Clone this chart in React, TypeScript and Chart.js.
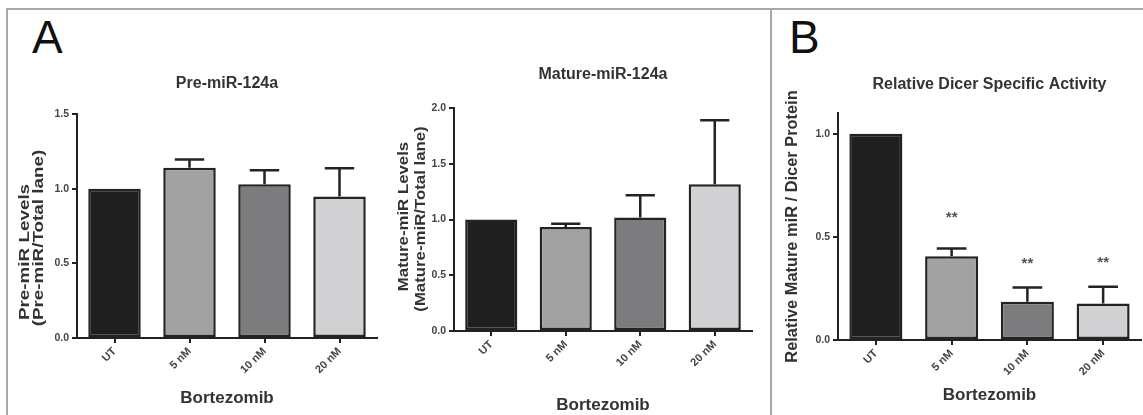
import React, { useEffect, useRef } from "react";
import { Chart, registerables } from "chart.js";

Chart.register(...registerables);

// ---------- data ----------
const categories = ["UT", "5 nM", "10 nM", "20 nM"];

const preMirValues = [1.0, 1.14, 1.03, 0.947];
const preMirErrors = [0, 0.055, 0.093, 0.19];
const preMirTicks = [0, 0.5, 1.0, 1.5];

const matureMirValues = [1.0, 0.933, 1.017, 1.316];
const matureMirErrors = [0, 0.03, 0.2, 0.574];
const matureMirTicks = [0, 0.5, 1.0, 1.5, 2.0];

const dicerValues = [1.0, 0.406, 0.185, 0.177];
const dicerErrors = [0, 0.037, 0.07, 0.081];
const dicerTicks = [0, 0.5, 1.0];
const dicerSignificance = ["", "**", "**", "**"];
const dicerSignificanceY = [0, 0.614, 0.39, 0.397];

const barColors = ["#1f1f1f", "#a2a2a2", "#7c7c7e", "#d1d1d3"];

const xAxisTitle = "Bortezomib";
const preMirTitle = "Pre-miR-124a";
const matureMirTitle = "Mature-miR-124a";
const dicerTitle = "Relative Dicer Specific Activity";
const preMirYTitle = ["Pre-miR Levels", "(Pre-miR/Total lane)"];
const matureMirYTitle = ["Mature-miR Levels", "(Mature-miR/Total lane)"];
const dicerYTitle = ["Relative Mature miR / Dicer Protein"];

const FONT = '"Liberation Sans", Arial, Helvetica, sans-serif';

// ---------- plugins ----------
const errorBarPlugin = {
  id: "errorBars",
  afterDatasetsDraw(chart: any, _args: any, opts: any) {
    const errors = opts && opts.errors;
    if (!errors) return;
    const meta = chart.getDatasetMeta(0);
    const yScale = chart.scales.y;
    const values = chart.data.datasets[0].data;
    const ctx = chart.ctx;
    ctx.save();
    ctx.strokeStyle = "#232323";
    ctx.lineWidth = 2.5;
    ctx.lineCap = "butt";
    meta.data.forEach((bar: any, i: number) => {
      const e = errors[i];
      if (!e) return;
      const v = values[i];
      const base = yScale.getPixelForValue(v);
      const top = yScale.getPixelForValue(v + e);
      const half = bar.width * 0.28;
      ctx.beginPath();
      ctx.moveTo(bar.x, base);
      ctx.lineTo(bar.x, top);
      ctx.moveTo(bar.x - half, top);
      ctx.lineTo(bar.x + half, top);
      ctx.stroke();
    });
    const sig = opts.sig;
    const sigY = opts.sigY;
    if (sig && sigY) {
      ctx.fillStyle = "#555";
      ctx.font = `bold 15px ${FONT}`;
      ctx.textAlign = "center";
      ctx.textBaseline = "alphabetic";
      meta.data.forEach((bar: any, i: number) => {
        if (!sig[i]) return;
        const y = yScale.getPixelForValue(sigY[i]) + 15 * 0.57;
        ctx.fillText(sig[i], bar.x, y);
      });
    }
    ctx.restore();
  },
};

const yTitlePlugin = {
  id: "yTitle",
  afterDraw(chart: any, _args: any, opts: any) {
    if (!opts || !opts.lines) return;
    const ctx = chart.ctx;
    ctx.save();
    ctx.fillStyle = "#333";
    ctx.font = `bold ${opts.size}px ${FONT}`;
    ctx.textAlign = "center";
    ctx.textBaseline = "middle";
    const texts = opts.texts;
    opts.lines.forEach((l: any, i: number) => {
      ctx.save();
      ctx.translate(l.x, l.y);
      ctx.rotate(-Math.PI / 2);
      ctx.scale(opts.stretch, 1);
      ctx.fillText(texts[i], 0, 0);
      ctx.restore();
    });
    ctx.restore();
  },
};

function buildConfig(o: any) {
  return {
    type: "bar",
    data: {
      labels: categories,
      datasets: [
        {
          data: o.values,
          backgroundColor: barColors,
          borderColor: "#232323",
          borderWidth: 2.5,
          borderSkipped: false,
          barPercentage: 0.7,
          categoryPercentage: 1,
        },
      ],
    },
    plugins: [errorBarPlugin, yTitlePlugin],
    options: {
      animation: false,
      responsive: false,
      devicePixelRatio: 1,
      events: [],
      layout: { padding: { left: 0, right: o.padRight, top: 0, bottom: 0 } },
      plugins: {
        legend: { display: false },
        tooltip: { enabled: false },
        title: {
          display: true,
          text: o.title,
          fullSize: false,
          color: "#333",
          font: { family: FONT, size: 16, weight: "bold", lineHeight: 1.2 },
          padding: { top: o.titlePadTop, bottom: o.titlePadBottom },
        },
        errorBars: { errors: o.errors, sig: o.sig, sigY: o.sigY },
        yTitle: o.yTitle,
      },
      scales: {
        x: {
          type: "category",
          offset: true,
          afterFit: (s: any) => {
            s.height = o.xAxisHeight;
          },
          grid: {
            offset: false,
            drawOnChartArea: false,
            drawTicks: true,
            tickLength: 5,
            color: "#222",
            lineWidth: 2,
          },
          border: { display: true, color: "#222", width: 2 },
          ticks: {
            color: "#444",
            font: { family: FONT, size: 11, weight: "bold" },
            minRotation: 45,
            maxRotation: 45,
            autoSkip: false,
            padding: 2,
          },
          title: {
            display: true,
            text: xAxisTitle,
            color: "#333",
            font: { family: FONT, size: 17, weight: "bold", lineHeight: 1 },
            padding: { top: 0, bottom: o.xTitlePadBottom },
          },
        },
        y: {
          min: 0,
          max: o.max,
          afterFit: (s: any) => {
            s.width = o.yAxisWidth;
          },
          afterBuildTicks: (s: any) => {
            s.ticks = o.ticks.map((v: number) => ({ value: v }));
          },
          grid: {
            drawOnChartArea: false,
            drawTicks: true,
            tickLength: 5,
            color: "#222",
            lineWidth: 2,
          },
          border: { display: true, color: "#222", width: 2 },
          ticks: {
            color: "#444",
            font: { family: FONT, size: 10.5, weight: "bold" },
            padding: 3,
            callback: (v: any) => Number(v).toFixed(1),
          },
        },
      },
    },
  };
}

function BarPanel({ cfg, left, top, width, height }: any) {
  const ref = useRef<HTMLCanvasElement | null>(null);
  useEffect(() => {
    if (!ref.current) return;
    const chart = new Chart(ref.current, cfg as any);
    return () => chart.destroy();
  }, []);
  return (
    <canvas
      ref={ref}
      width={width}
      height={height}
      style={{ position: "absolute", left, top, width, height }}
    />
  );
}

const preMirCfg = buildConfig({
  values: preMirValues,
  errors: preMirErrors,
  ticks: preMirTicks,
  max: 1.5,
  title: preMirTitle,
  titlePadTop: 13.7,
  titlePadBottom: 21.1,
  yAxisWidth: 67,
  xAxisHeight: 77,
  xTitlePadBottom: 8.5,
  padRight: 5,
  yTitle: {
    texts: preMirYTitle,
    size: 14.5,
    stretch: 1.3,
    lines: [
      { x: 15, y: 192 },
      { x: 29, y: 178 },
    ],
  },
});

const matureMirCfg = buildConfig({
  values: matureMirValues,
  errors: matureMirErrors,
  ticks: matureMirTicks,
  max: 2.0,
  title: matureMirTitle,
  titlePadTop: 15.4,
  titlePadBottom: 23.4,
  yAxisWidth: 69,
  xAxisHeight: 84,
  xTitlePadBottom: 1.5,
  padRight: 5,
  yTitle: {
    texts: matureMirYTitle,
    size: 15,
    stretch: 1.12,
    lines: [
      { x: 19, y: 166.5 },
      { x: 36, y: 169 },
    ],
  },
});

const dicerCfg = buildConfig({
  values: dicerValues,
  errors: dicerErrors,
  ticks: dicerTicks,
  max: 1.1,
  title: dicerTitle,
  titlePadTop: 20.4,
  titlePadBottom: 18.4,
  yAxisWidth: 63,
  xAxisHeight: 75,
  xTitlePadBottom: 11.5,
  padRight: 2,
  sig: dicerSignificance,
  sigY: dicerSignificanceY,
  yTitle: {
    texts: dicerYTitle,
    size: 16.4,
    stretch: 1,
    lines: [{ x: 17, y: 171.5 }],
  },
});

export default function App() {
  const line = "#a8a8a8";
  return (
    <div
      style={{
        position: "absolute",
        left: 0,
        top: 0,
        width: 1143,
        height: 415,
        overflow: "hidden",
        background: "#ffffff",
        fontFamily: FONT,
      }}
    >
      <div style={{ position: "absolute", left: 6, top: 8, width: 1137, height: 2, background: line }} />
      <div style={{ position: "absolute", left: 6, top: 8, width: 2, height: 407, background: line }} />
      <div style={{ position: "absolute", left: 770, top: 8, width: 2, height: 407, background: line }} />
      <div
        style={{
          position: "absolute",
          left: 32,
          top: 14,
          fontSize: 46,
          lineHeight: "46px",
          color: "#111",
          fontFamily: FONT,
        }}
      >
        A
      </div>
      <div
        style={{
          position: "absolute",
          left: 789,
          top: 14,
          fontSize: 46,
          lineHeight: "46px",
          color: "#111",
          fontFamily: FONT,
        }}
      >
        B
      </div>
      <BarPanel cfg={preMirCfg} left={10} top={60} width={372} height={355} />
      <BarPanel cfg={matureMirCfg} left={385} top={50} width={372} height={365} />
      <BarPanel cfg={dicerCfg} left={775} top={55} width={368} height={360} />
    </div>
  );
}
